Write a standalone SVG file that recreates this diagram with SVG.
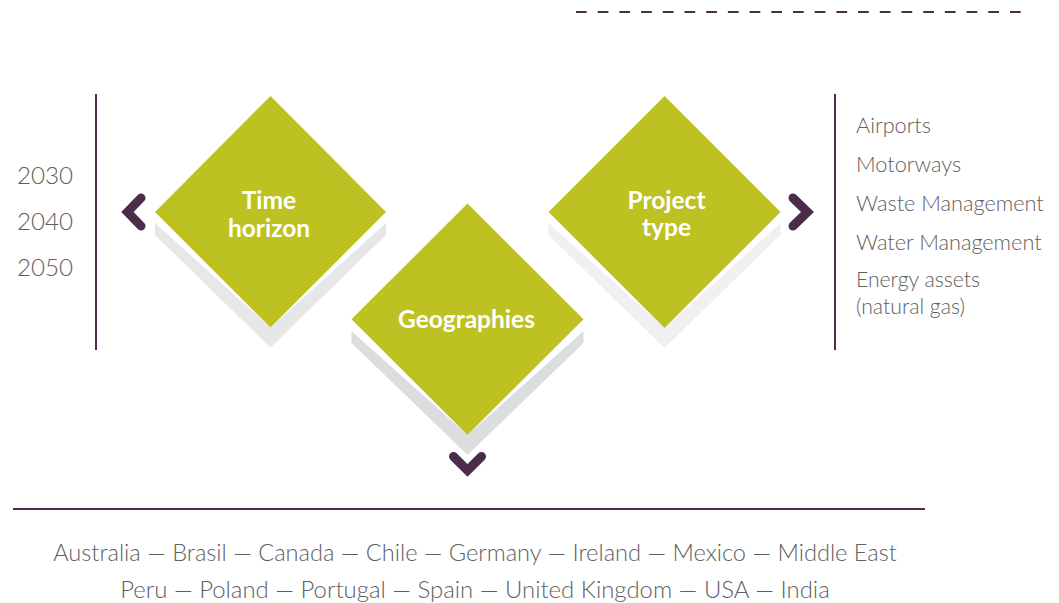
<svg xmlns="http://www.w3.org/2000/svg" width="1059" height="603" viewBox="0 0 1059 603">
<defs>
<style>
.dia{fill:#bdc222;}
.lbl{font-family:Lato,"Open Sans",sans-serif;font-weight:bold;font-size:24.5px;fill:#ffffff;text-anchor:middle;}
.txt{font-family:Lato,"Open Sans",sans-serif;font-weight:300;fill:#606060;}
.chev{fill:none;stroke:#4b2d4a;stroke-width:9;stroke-linecap:round;stroke-linejoin:miter;}
.rule{stroke:#4b2d4a;stroke-width:2;fill:none;}
</style>
</defs>
<rect width="1059" height="603" fill="#ffffff"/>
<g id="connectors">
<line class="rule" x1="576" y1="12" x2="1021" y2="12" stroke-dasharray="10.7 11" stroke-width="2.6"/>
<line class="rule" x1="96" y1="94" x2="96" y2="350"/>
<line class="rule" x1="835" y1="94" x2="835" y2="350"/>
<line class="rule" x1="13" y1="509" x2="925" y2="509" stroke="#6e5b6d" stroke-width="1.8"/>
<polyline class="chev" points="141,198 127.5,212 141,226"/>
<polyline class="chev" points="793,198 807.5,212 793,226"/>
<polyline class="chev" points="453.5,456.5 467.5,470.5 481.5,456.5"/>
</g>
<g id="years">
<text class="txt" x="73" y="184" font-size="24.2" text-anchor="end">2030</text>
<text class="txt" x="73" y="230" font-size="24.2" text-anchor="end">2040</text>
<text class="txt" x="73" y="276" font-size="24.2" text-anchor="end">2050</text>
</g>
<g id="node-time-horizon">
<polygon points="155,223 270.5,327.5 386,223 386,235 270.5,347.5 155,235" fill="#e7e7e9"/>
<polygon class="dia" points="270.5,96 386,212 270.5,327.5 155,212"/>
<text class="lbl" x="269" y="209">Time</text>
<text class="lbl" x="269" y="237">horizon</text>
</g>
<g id="node-project-type">
<polygon points="548.5,223 664.5,328 780.5,223 780.5,235 664.5,348 548.5,235" fill="#f0f0f0"/>
<polygon class="dia" points="664.5,96 780.5,212 664.5,328 548.5,212"/>
<text class="lbl" x="666.5" y="209">Project</text>
<text class="lbl" x="666.5" y="236">type</text>
</g>
<g id="node-geographies">
<polygon points="351.5,331 467.5,435 583.5,331 583.5,343 467.5,455 351.5,343" fill="#dddde0"/>
<polygon class="dia" points="467.5,203.5 583.5,319.3 467.5,435 351.5,319.3"/>
<text class="lbl" x="466.5" y="328">Geographies</text>
</g>
<g id="project-list">
<text class="txt" x="856" y="133" font-size="21.7">Airports</text>
<text class="txt" x="856" y="172" font-size="21.7">Motorways</text>
<text class="txt" x="856" y="211" font-size="21.7">Waste Management</text>
<text class="txt" x="856" y="250" font-size="21.7">Water Management</text>
<text class="txt" x="856" y="287" font-size="21.2">Energy assets</text>
<text class="txt" x="856" y="314" font-size="21.2">(natural gas)</text>
</g>
<g id="geo-list">
<text class="txt" x="475" y="561" font-size="23.6" text-anchor="middle">Australia — Brasil — Canada — Chile — Germany — Ireland — Mexico — Middle East</text>
<text class="txt" x="475" y="598" font-size="23.9" text-anchor="middle">Peru — Poland — Portugal — Spain — United Kingdom — USA — India</text>
</g>
</svg>
